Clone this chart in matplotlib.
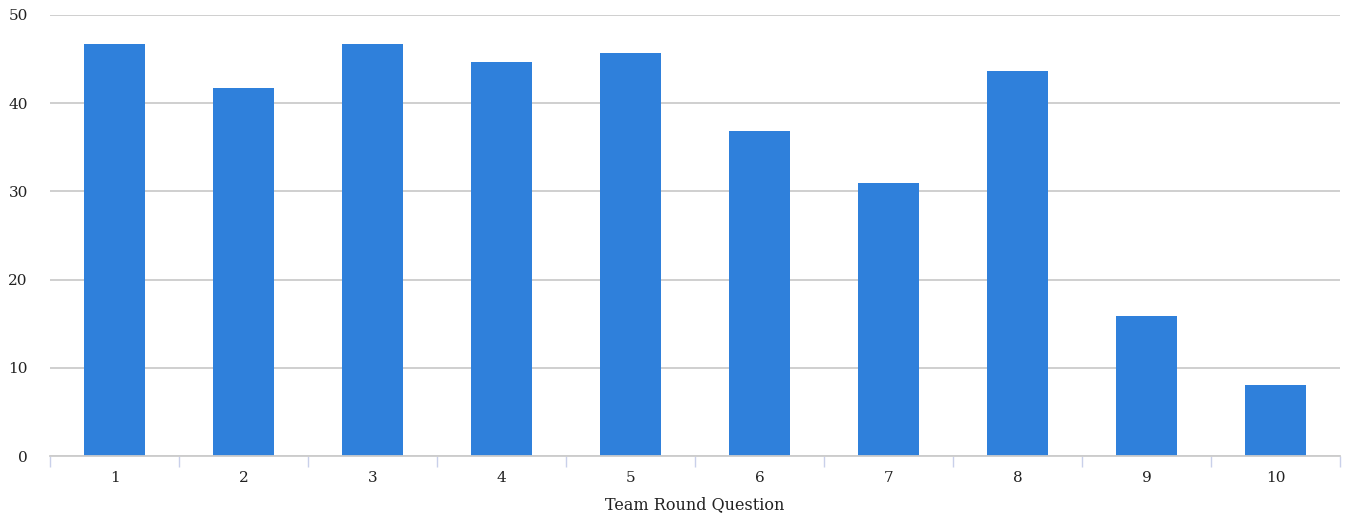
import numpy as np
import matplotlib
matplotlib.use("Agg")
import matplotlib.pyplot as plt

# Correct answers per team round question
questions = [1, 2, 3, 4, 5, 6, 7, 8, 9, 10]
correct = [46.7, 41.7, 46.7, 44.7, 45.7, 36.8, 30.9, 43.7, 15.9, 8.0]
y_ticks = [0, 10, 20, 30, 40, 50]

plt.rcParams['font.family'] = ['DejaVu Serif']

fig = plt.figure(figsize=(13.48, 5.19), dpi=100)
ax = fig.add_axes([50 / 1348, 63 / 519, 1290 / 1348, 441 / 519])

ax.bar(questions, correct, width=0.47, color='#2f80db', zorder=3)

ax.set_xlim(0.5, 10.5)
ax.set_ylim(0, 50)
ax.set_yticks(y_ticks)
ax.set_xticks(questions)
ax.set_xticks(np.arange(0.5, 11, 1), minor=True)

ax.grid(axis='y', color='#cccccc', linewidth=1.3, zorder=0)
for s in ['top', 'right', 'left']:
    ax.spines[s].set_visible(False)
ax.spines['bottom'].set_color('#cccccc')
ax.spines['bottom'].set_linewidth(1.3)
ax.spines['bottom'].set_zorder(4)

ax.tick_params(axis='y', length=0, pad=16, labelsize=11, labelcolor='#222222')
ax.tick_params(axis='x', which='major', length=0, pad=11, labelsize=11, labelcolor='#222222')
ax.tick_params(axis='x', which='minor', length=8, width=1, color='#c9d0ea')

ax.set_xlabel('Team Round Question', fontsize=11.5, color='#222222', labelpad=8)

fig.savefig('out.png', dpi=100)
